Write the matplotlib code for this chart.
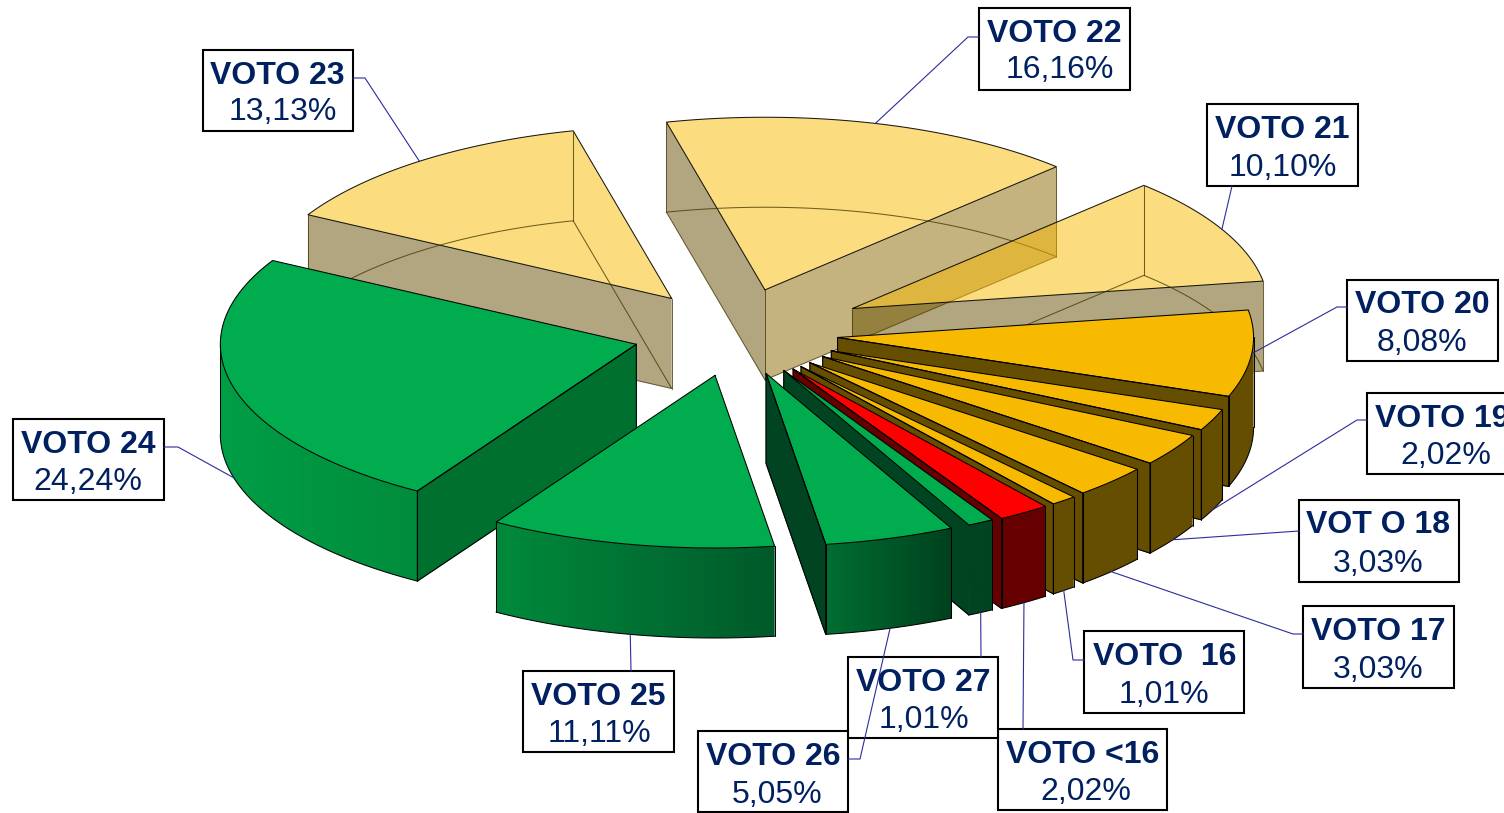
import numpy as np
import matplotlib
matplotlib.use("Agg")
import matplotlib.pyplot as plt
from matplotlib.patches import Polygon, Rectangle

# ---------- data (clockwise from the top slice) ----------
NAMES = ["VOTO 22", "VOTO 21", "VOTO 20", "VOTO 19", "VOT O 18", "VOTO 17", "VOTO  16",
         "VOTO <16", "VOTO 27", "VOTO 26", "VOTO 25", "VOTO 24", "VOTO 23"]
VALUES = [16.16, 10.10, 8.08, 2.02, 3.03, 3.03, 1.01, 2.02, 1.01, 5.05, 11.11, 24.24, 13.13]

# ---------- pie geometry and style ----------
W, H_PX = 1504, 813
CX, CY = 736.0, 333.5
R, K, DEPTH = 416.0, 0.415, 90.0
START = -13.7
EXPLODE = [109, 131, 102, 104, 103, 102, 103, 103, 101, 101, 103, 103, 106]

ORANGE, BROWN = "#F8BA00", "#654E00"
GREEN, DKGREEN = "#00AC4E", "#004421"
TOPS = [ORANGE, ORANGE, ORANGE, ORANGE, ORANGE, ORANGE, ORANGE, "#FF0000",
        GREEN, GREEN, GREEN, GREEN, ORANGE]
WALLS_START = [BROWN, BROWN, BROWN, BROWN, BROWN, BROWN, BROWN, "#660000",
               DKGREEN, DKGREEN, DKGREEN, "#00702F", BROWN]
WALLS_END = ["#8C6900", BROWN, BROWN, BROWN, BROWN, BROWN, BROWN, "#660000",
             DKGREEN, DKGREEN, DKGREEN, "#00702F", BROWN]
ARC_LEFT = [BROWN] * 7 + ["#660000", "#004421", "#006E32", "#008A3C", "#009E46", BROWN]
ARC_RIGHT = [BROWN] * 7 + ["#660000", "#004421", "#00411E", "#005A2A", "#008C3C", BROWN]
TRANSLUCENT = [True, True, False, False, False, False, False, False,
               False, False, False, False, True]
NO_CORNER_LINE = [8]
DRAW_ORDER = [12, 0, 1, 2, 3, 4, 5, 6, 7, 8, 9, 11, 10]

BOXES = [(979, 8, 1130, 90), (1207, 104, 1358, 186), (1347, 280, 1498, 361),
         (1367, 393, 1518, 474), (1299, 500, 1459, 582), (1303, 606, 1454, 688),
         (1084, 631, 1244, 713), (998, 729, 1167, 810), (848, 657, 998, 738),
         (698, 731, 848, 812), (523, 671, 674, 752), (13, 419, 164, 500),
         (203, 50, 353, 131)]
NAME_XY = [(1054.5, 30), (1282, 127), (1422.5, 301), (1442.5, 415), (1378.5, 521),
           (1378.5, 628), (1164.5, 653), (1082.5, 751), (923.5, 679), (773.5, 753),
           (598.5, 693), (88.5, 441), (277.5, 72)]
PCT_XY = [(1059.5, 67), (1282.5, 165), (1422, 339), (1445.5, 452), (1378, 560),
          (1378, 666), (1164, 691), (1086, 788), (923.5, 716), (777, 791),
          (599, 730), (88, 478), (282.5, 109)]
LEADER_VIA = [[(968, 37), (979, 37)], [(1232, 186)], [(1337, 307), (1347, 307)],
              [(1357, 420), (1367, 420)], [(1299, 531)], [(1293, 634), (1303, 634)],
              [(1073, 660), (1084, 660)], [(1023, 729)], [(981, 657)],
              [(860, 759), (848, 759)], [(631, 671)], [(178, 447), (164, 447)],
              [(365, 78), (353, 78)]]

NAVY = "#002060"
LEADER = "#2C2C9C"
HIDDEN = "#403200"
plt.rcParams["font.family"] = ["Liberation Sans", "DejaVu Sans"]

fig = plt.figure(figsize=(W / 100, H_PX / 100), dpi=100)
ax = fig.add_axes([0, 0, 1, 1])
ax.axis("off")

spans = np.array(VALUES) / sum(VALUES) * 360.0
starts = START + np.concatenate([[0], np.cumsum(spans)[:-1]])
ends = starts + spans
mids = (starts + ends) / 2


def tip(i):
    m = np.radians(mids[i])
    return CX + EXPLODE[i] * np.sin(m), CY - K * EXPLODE[i] * np.cos(m)


def rim(i, angles):
    t = np.radians(angles)
    tx, ty = tip(i)
    return np.column_stack([tx + R * np.sin(t), ty - K * R * np.cos(t)])


def rgb(c):
    return np.array(matplotlib.colors.to_rgb(c))


LINE = dict(color="black", lw=0.75, solid_joinstyle="round", solid_capstyle="round")

for i in DRAW_ORDER:
    a, b = starts[i], ends[i]
    T = np.array(tip(i))
    down = np.array([0, DEPTH])
    arc = rim(i, np.linspace(a, b, max(int(spans[i] * 2), 8)))
    alpha = 0.5 if TRANSLUCENT[i] else 1.0
    z = 2 + DRAW_ORDER.index(i)

    # outer wall, front-facing part only, shaded across its width
    lo, hi = max(a, 90.0), min(b, 270.0)
    if lo < hi:
        pts = rim(i, np.linspace(lo, hi, max(int((hi - lo) * 2), 6)))
        xmin, xmax = pts[:, 0].min(), pts[:, 0].max()
        ymin, ymax = pts[:, 1].min(), pts[:, 1].max() + DEPTH
        f = np.linspace(0, 1, 64)[None, :, None]
        grad = rgb(ARC_LEFT[i])[None, None, :] * (1 - f) + rgb(ARC_RIGHT[i])[None, None, :] * f
        im = ax.imshow(grad, extent=(xmin, xmax, ymax, ymin), aspect="auto",
                       interpolation="bilinear", zorder=z)
        clip = Polygon(np.vstack([pts, (pts + down)[::-1]]), closed=True,
                       transform=ax.transData)
        im.set_clip_path(clip)

    # radial walls
    P_a, P_b = arc[0], arc[-1]
    vis_a = np.sin(np.radians(a)) < 0
    vis_b = np.sin(np.radians(b)) > 0
    seam = 0.0 if TRANSLUCENT[i] else 0.8
    if vis_a:
        ax.add_patch(Polygon([T, P_a, P_a + down, T + down], closed=True, fc=WALLS_START[i],
                             ec=WALLS_START[i] if seam else "none", lw=seam,
                             alpha=alpha, zorder=z))
    if vis_b:
        ax.add_patch(Polygon([T, P_b, P_b + down, T + down], closed=True, fc=WALLS_END[i],
                             ec=WALLS_END[i] if seam else "none", lw=seam,
                             alpha=alpha, zorder=z))

    # top face
    top_pts = np.vstack([T, arc])
    ax.add_patch(Polygon(top_pts, closed=True, fc=TOPS[i], ec="none", alpha=alpha, zorder=z))

    # outlines
    ax.plot(*np.vstack([top_pts, T]).T, alpha=0.9 if TRANSLUCENT[i] else 1, zorder=z, **LINE)
    bottom = np.vstack([T, arc, T]) + down
    if TRANSLUCENT[i]:
        hid = dict(LINE, color=HIDDEN)
        ax.plot(*bottom.T, alpha=0.75, zorder=z, **hid)
        for p in (T, P_a, P_b):
            ax.plot([p[0], p[0]], [p[1], p[1] + DEPTH], alpha=0.75, zorder=z, **hid)
    else:
        if vis_a:
            ax.plot(*np.array([T, P_a, P_a + down, T + down, T]).T, zorder=z, **LINE)
        if vis_b:
            q = [T, P_b, P_b + down, T + down, T]
            if i in NO_CORNER_LINE:
                q = [P_b + down, T + down, T]
            ax.plot(*np.array(q).T, zorder=z, **LINE)
        if lo < hi:
            low = rim(i, np.linspace(lo, hi, 60)) + down
            ax.plot(*low.T, zorder=z, **LINE)
            for p in (low[-1] - down, low[0] - down):
                if i in NO_CORNER_LINE and abs(p[0] - P_b[0]) < 1:
                    continue
                ax.plot([p[0], p[0]], [p[1], p[1] + DEPTH], zorder=z, **LINE)

# label boxes, leaders and texts
for i, (x0, y0, x1, y1) in enumerate(BOXES):
    ax.add_patch(Rectangle((x0, y0), x1 - x0, y1 - y0, fc="white", ec="black", lw=1.5,
                           zorder=30, clip_on=True))

for i, via in enumerate(LEADER_VIA):
    m = mids[i]
    p = rim(i, [m])[0]
    if np.cos(np.radians(m)) < -0.2:
        p = p + np.array([0, DEPTH])
    pts = np.vstack([p, np.array(via, float)])
    ax.plot(pts[:, 0], pts[:, 1], color=LEADER, lw=0.8, zorder=31)

for name, v, (nx, ny), (px, py) in zip(NAMES, VALUES, NAME_XY, PCT_XY):
    ax.text(nx, ny + 11.5, name, color=NAVY, fontsize=23, fontweight="bold",
            ha="center", va="baseline", zorder=32)
    ax.text(px, py + 11.5, f"{v:.2f}".replace(".", ",") + "%", color=NAVY, fontsize=23,
            ha="center", va="baseline", zorder=32)

ax.set_xlim(0, W)
ax.set_ylim(H_PX, 0)
fig.savefig("out.png", dpi=100, facecolor="white")
